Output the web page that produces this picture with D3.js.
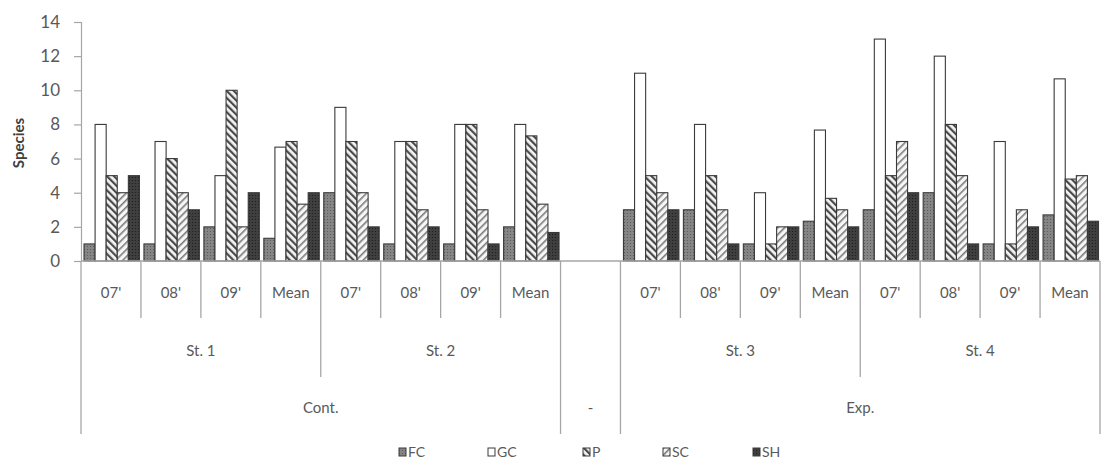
<!DOCTYPE html>
<html><head><meta charset="utf-8">
<script src="https://cdn.jsdelivr.net/npm/d3@7"></script>
<style>body{margin:0;background:#fff}svg{display:block}</style>
</head><body><svg id="c" width="1103" height="462"></svg>
<script>
const series = ["FC","GC","P","SC","SH"];
const years = ["07'","08'","09'","Mean"];
const stations = ["St. 1","St. 2","","St. 3","St. 4"];
const groups = ["Cont.","-","Exp."];
const categories = [
 "St1-07","St1-08","St1-09","St1-Mean",
 "St2-07","St2-08","St2-09","St2-Mean",
 "blank",
 "St3-07","St3-08","St3-09","St3-Mean",
 "St4-07","St4-08","St4-09","St4-Mean"];
const FC = [1,1,2,1.33, 4,1,1,2, null, 3,3,1,2.33, 3,4,1,2.7];
const GC = [8,7,5,6.67, 9,7,8,8, null, 11,8,4,7.67, 13,12,7,10.67];
const P  = [5,6,10,7, 7,7,8,7.33, null, 5,5,1,3.67, 5,8,1,4.8];
const SC = [4,4,2,3.33, 4,3,3,3.33, null, 4,3,2,3, 7,5,3,5];
const SH = [5,3,4,4, 2,2,1,1.67, null, 3,1,2,2, 4,1,2,2.33];
const yTicks = [0,2,4,6,8,10,12,14];

const values = {FC,GC,P,SC,SH};
const svg = d3.select("#c");
const font = "Lato, 'Open Sans', sans-serif";
const axisCol = "#a6a6a6", textCol = "#595959";

const x = d3.scaleBand().domain(categories).range([81,1100]).padding(0);
const xi = d3.scaleBand().domain(series).range([3, x.bandwidth()-1.5]).padding(0);
const y = d3.scaleLinear().domain([0,14]).range([261,22]);

// patterns
const defs = svg.append("defs");
function stripe(id, rot, w, col, bg){
  const p = defs.append("pattern").attr("id",id).attr("patternUnits","userSpaceOnUse")
    .attr("width",5).attr("height",5).attr("patternTransform",`rotate(${rot})`);
  p.append("rect").attr("width",5).attr("height",5).attr("fill",bg);
  p.append("rect").attr("width",w).attr("height",5).attr("fill",col);
}
stripe("pP",-45,2.2,"#4a4a4a","#f4f4f4");
stripe("pSC",45,1.6,"#7a7a7a","#f6f6f6");
function dots(id, bg, dot){
  const p = defs.append("pattern").attr("id",id).attr("patternUnits","userSpaceOnUse")
    .attr("width",3).attr("height",3);
  p.append("rect").attr("width",3).attr("height",3).attr("fill",bg);
  p.append("rect").attr("width",1).attr("height",1).attr("fill",dot);
}
dots("pFC","#858585","#5a5a5a");
dots("pSH","#3f3f3f","#1e1e1e");
const fills = {FC:"url(#pFC)",GC:"#ffffff",P:"url(#pP)",SC:"url(#pSC)",SH:"url(#pSH)"};

// y axis
const ya = svg.append("g").attr("transform","translate(81,0)")
  .call(d3.axisLeft(y).tickValues(yTicks).tickSize(7).tickPadding(14));
ya.selectAll("path,line").attr("stroke",axisCol).attr("stroke-width",1.2);
ya.selectAll("text").attr("font-family",font).attr("font-size",17).attr("fill",textCol);

svg.append("text").attr("transform","translate(24,143) rotate(-90)")
  .attr("text-anchor","middle").attr("font-family",font).attr("font-weight","bold")
  .attr("font-size",15).attr("fill","#404040").text("Species");

// bars
const bars = [];
categories.forEach((c,i)=>series.forEach(s=>{ if(values[s][i]!=null) bars.push({c,s,v:values[s][i]}); }));
svg.append("g").selectAll("rect").data(bars).join("rect")
  .attr("x",d=>x(d.c)+xi(d.s)).attr("width",xi.bandwidth())
  .attr("y",d=>y(d.v)).attr("height",d=>y(0)-y(d.v))
  .attr("fill",d=>fills[d.s]).attr("stroke","#3a3a3a").attr("stroke-width",1.1);

// x baseline
const g = svg.append("g").attr("stroke",axisCol).attr("stroke-width",1.3);
g.append("line").attr("x1",81).attr("x2",1100).attr("y1",y(0)).attr("y2",y(0));

// separators
const bw = x.bandwidth();
for(let i=0;i<=categories.length;i++){
  const xx = 81 + i*bw;
  let bottom = 318;
  if (i===0 || i===8 || i===9 || i===17) bottom = 434;
  else if (i===4 || i===13) bottom = 377;
  g.append("line").attr("x1",xx).attr("x2",xx).attr("y1",y(0)).attr("y2",bottom);
}

const lab = svg.append("g").attr("font-family",font).attr("fill",textCol).attr("text-anchor","middle");
categories.forEach((c,i)=>{
  if(c==="blank") return;
  const yr = years[(i<8? i : i-9) % 4];
  lab.append("text").attr("x",x(c)+bw/2).attr("y",298).attr("font-size",15).text(yr);
});
const stSpans = [[0,4],[4,8],[8,9],[9,13],[13,17]];
stations.forEach((s,k)=>{
  const [a,b]=stSpans[k];
  lab.append("text").attr("x",81+(a+b)/2*bw).attr("y",356).attr("font-size",15).text(s);
});
const grSpans = [[0,8],[8,9],[9,17]];
groups.forEach((s,k)=>{
  const [a,b]=grSpans[k];
  lab.append("text").attr("x",81+(a+b)/2*bw).attr("y",413).attr("font-size",15).text(s);
});

// legend
const legX = [399,488,583,663,753];
const leg = svg.append("g");
series.forEach((s,k)=>{
  leg.append("rect").attr("x",legX[k]).attr("y",448).attr("width",7).attr("height",8)
    .attr("fill",fills[s]).attr("stroke","#3a3a3a").attr("stroke-width",1);
  leg.append("text").attr("x",legX[k]+9).attr("y",457).attr("font-family",font)
    .attr("font-size",14).attr("fill",textCol).text(s);
});
</script></body></html>
